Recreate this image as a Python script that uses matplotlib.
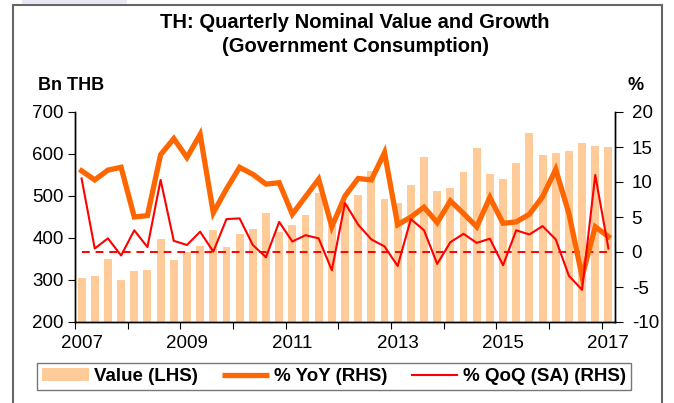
import matplotlib
matplotlib.use("Agg")
import matplotlib.pyplot as plt
import numpy as np
from matplotlib.patches import Rectangle, Patch
from matplotlib.lines import Line2D

plt.rcParams['font.family'] = ['Liberation Sans', 'DejaVu Sans']
plt.rcParams['axes.unicode_minus'] = False

# quarterly series, 2007Q1 .. 2017Q1
years = [y for y in range(2007, 2018) for _ in range(4)][:41]
quarters = [q for _ in range(2007, 2018) for q in range(1, 5)][:41]

value_bn_thb = [305, 310, 349, 299,
                321, 325, 398, 348,
                366, 380, 419, 379,
                410, 422, 459, 415,
                431, 455, 506, 430,
                480, 502, 560, 492,
                484, 526, 594, 513,
                518, 556, 615, 552,
                540, 579, 649, 597,
                603, 606, 627, 618,
                617]
yoy_pct = [11.6, 10.3, 11.7, 12.1,
           5.0, 5.2, 13.9, 16.2,
           13.5, 16.8, 5.6, 9.0,
           12.1, 11.1, 9.7, 9.9,
           5.4, 7.9, 10.4, 3.6,
           8.0, 10.5, 10.3, 14.2,
           3.9, 5.0, 6.4, 4.2,
           7.3, 5.5, 3.6, 7.8,
           4.1, 4.3, 5.4, 7.9,
           11.8, 5.5, -3.5, 3.6,
           2.2]
qoq_sa_pct = [10.5, 0.5, 1.95, -0.5,
              3.1, 0.7, 10.3, 1.6,
              1.0, 2.9, 0.05, 4.7,
              4.8, 1.0, -0.75, 4.3,
              1.5, 2.4, 1.95, -2.6,
              7.0, 3.9, 1.8, 0.8,
              -2.0, 4.7, 3.1, -1.7,
              1.4, 2.6, 1.3, 1.9,
              -1.9, 3.1, 2.5, 3.7,
              1.8, -3.4, -5.4, 11.0,
              0.5]

year_ticks = list(range(2007, 2018))
year_labels = ['2007', '2009', '2011', '2013', '2015', '2017']

BAR = '#FFCC99'
ORANGE = '#FF6600'
RED = '#FF0000'

# each quarter sits in the middle of its quarter-year slot
x = np.array(years) + (np.array(quarters) - 0.5) / 4

W, H = 674, 403
fig = plt.figure(figsize=(W / 100, H / 100), dpi=100)
ax = fig.add_axes([75 / W, 1 - 322 / H, 540 / W, 210 / H])
ax2 = ax.twinx()

ax.bar(x, value_bn_thb, width=0.15, color=BAR, zorder=1)
ax.set_ylim(200, 700)
ax.set_yticks(range(200, 701, 100))
ax.set_xlim(2007, 2017.25)

ax2.plot([x[0], x[-1]], [0, 0], color=RED, lw=1.4, ls=(0, (4, 3)), zorder=2)
ax2.plot(x, yoy_pct, color=ORANGE, lw=3.8, solid_joinstyle='miter', zorder=3)
ax2.plot(x, qoq_sa_pct, color=RED, lw=1.5, zorder=4)
ax2.set_ylim(-10, 20)
ax2.set_yticks(range(-10, 21, 5))

# year boundaries get the tick marks, the labels sit under each Q1 bar
ax.set_xticks(year_ticks)
ax.set_xticklabels([''] * len(year_ticks))
ax.set_xticks([int(l) + 0.125 for l in year_labels], minor=True)
ax.set_xticklabels(year_labels, minor=True)
ax.tick_params(axis='x', which='major', length=5, direction='out')
ax.tick_params(axis='x', which='minor', length=0, pad=9, labelsize=13.5)
ax.tick_params(axis='y', length=5, direction='out', pad=3, labelsize=13.5)
ax2.tick_params(axis='y', length=6, direction='out', pad=6, labelsize=13.5)

for a in (ax, ax2):
    a.spines['top'].set_visible(False)
    for s in ('left', 'right', 'bottom'):
        a.spines[s].set_linewidth(1.0)
        a.spines[s].set_color('black')

fig.text(355 / W, 1 - 22 / H, 'TH: Quarterly Nominal Value and Growth',
         ha='center', va='center', fontsize=14.5, fontweight='bold')
fig.text(355 / W, 1 - 47 / H, '(Government Consumption)',
         ha='center', va='center', fontsize=14.5, fontweight='bold')
fig.text(38 / W, 1 - 85 / H, 'Bn THB', ha='left', va='center',
         fontsize=13, fontweight='bold')
fig.text(628 / W, 1 - 85 / H, '%', ha='left', va='center',
         fontsize=13, fontweight='bold')

handles = [Patch(facecolor=BAR, edgecolor='none'),
           Line2D([], [], color=ORANGE, lw=3.8, solid_capstyle='butt'),
           Line2D([], [], color=RED, lw=1.5, solid_capstyle='butt')]
labels = ['Value (LHS)', '% YoY (RHS)', '% QoQ (SA) (RHS)']
fig.legend(handles, labels, loc='center', bbox_to_anchor=(334 / W, 1 - 376.5 / H),
           ncol=3, frameon=True, fancybox=False, edgecolor='#555555',
           prop={'weight': 'bold', 'size': 13.5}, handlelength=2.5,
           handleheight=0.7, handletextpad=0.25, columnspacing=1.3,
           borderpad=0.25, borderaxespad=0)

# outer chart border and faint header strip
fig.add_artist(Rectangle((13 / W, -0.1), (662 - 13) / W, 1 - 5 / H + 0.1,
                         transform=fig.transFigure, fill=False,
                         edgecolor='#666666', lw=1.5))
fig.add_artist(Rectangle((22 / W, 1 - 4 / H), 105 / W, 4 / H,
                         transform=fig.transFigure, facecolor='#e8e8f2',
                         edgecolor='none'))

fig.savefig('out.png', dpi=100)
